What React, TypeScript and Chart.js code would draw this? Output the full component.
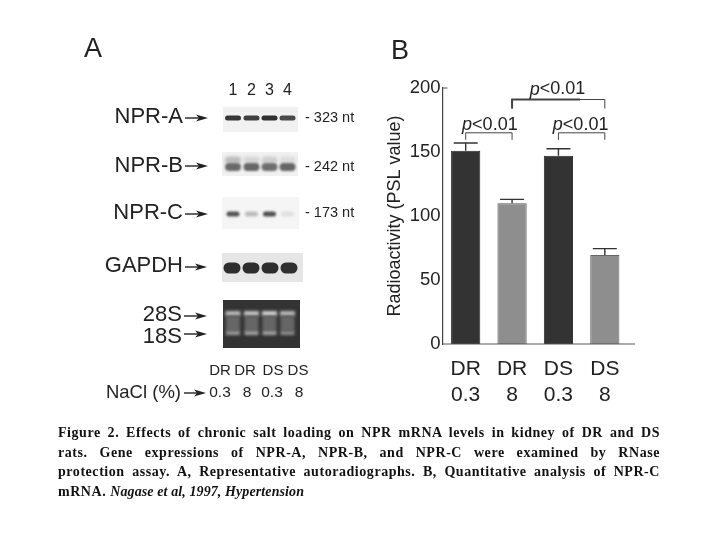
import React, { useEffect, useRef } from 'react';
import { Chart, registerables } from 'chart.js';

Chart.register(...registerables);

// Panel B values
const groups = [['DR', '0.3'], ['DR', '8'], ['DS', '0.3'], ['DS', '8']];
const psl = [151, 110, 147, 69.5];
const errTop = [157, 113, 152.5, 74.5];
const barColors = ['#333333', '#8e8e8e', '#333333', '#8e8e8e'];
const barBorders = ['#2a2a2a', '#555555', '#2a2a2a', '#666666'];
const yTicks = [0, 50, 100, 150, 200];

// significance brackets
const bracketFrom = [0, 2, 1];
const bracketTo = [1, 3, 3];
const bracketLevel = [165, 165, 191];
const bracketText = ['<0.01', '<0.01', '<0.01'];

// Panel A band intensities per lane (0-1)
const npraBands = [0.95, 0.9, 0.98, 0.85];
const nprbBands = [0.68, 0.7, 0.66, 0.7];
const nprbSmear = [0.25, 0.12, 0.15, 0.08];
const nprcBands = [0.8, 0.25, 0.82, 0.06];
const gapdhBands = [1, 1, 1, 0.98];
const bands28s = [0.5, 0.55, 0.6, 0.5];
const bands18s = [0.38, 0.42, 0.42, 0.32];
const laneNumbers = ['1', '2', '3', '4'];
const laneGroups = ['DR', 'DR', 'DS', 'DS'];
const laneNacl = ['0.3', '8', '0.3', '8'];

const captionLines = [
  'Figure 2. Effects of chronic salt loading on NPR mRNA levels in kidney of DR and DS',
  'rats. Gene expressions of NPR-A, NPR-B, and NPR-C were examined by RNase',
  'protection assay. A, Representative autoradiographs. B, Quantitative analysis of NPR-C',
];

const SANS = '"Liberation Sans", Arial, sans-serif';
const INK = '#222222';

function arrow(ctx: CanvasRenderingContext2D, x0: number, x1: number, y: number) {
  ctx.strokeStyle = INK;
  ctx.fillStyle = INK;
  ctx.lineWidth = 1.4;
  ctx.beginPath();
  ctx.moveTo(x0, y);
  ctx.lineTo(x1 - 8, y);
  ctx.stroke();
  ctx.beginPath();
  ctx.moveTo(x1, y);
  ctx.lineTo(x1 - 12, y - 3.5);
  ctx.lineTo(x1 - 9, y);
  ctx.lineTo(x1 - 12, y + 3.5);
  ctx.closePath();
  ctx.fill();
}

function label(ctx: CanvasRenderingContext2D, s: string, x: number, y: number, size: number, align: CanvasTextAlign = 'left') {
  ctx.fillStyle = INK;
  ctx.font = `${size}px ${SANS}`;
  ctx.textAlign = align;
  ctx.textBaseline = 'middle';
  ctx.fillText(s, x, y);
}

function blotRow(
  ctx: CanvasRenderingContext2D,
  levels: number[],
  lanes: number[],
  y: number,
  w: number,
  h: number,
  blur: number,
) {
  ctx.save();
  ctx.filter = `blur(${blur}px)`;
  levels.forEach((v, i) => {
    const g = Math.round(235 - v * 190);
    ctx.fillStyle = `rgb(${g},${g},${g})`;
    ctx.beginPath();
    ctx.roundRect(lanes[i] - w / 2, y - h / 2, w, h, h / 2);
    ctx.fill();
  });
  ctx.restore();
}

// gels on the left, drawn under everything else
const panelA = {
  id: 'panelA',
  beforeDraw(chart: Chart) {
    const ctx = chart.ctx;
    const lanes = [233, 251.5, 269.5, 287.5];
    ctx.save();

    label(ctx, 'A', 93, 50, 27, 'center');
    laneNumbers.forEach((s, i) => label(ctx, s, lanes[i], 91, 16, 'center'));

    ctx.fillStyle = '#f1f1f1';
    ctx.fillRect(223, 107, 75, 25);
    ctx.fillRect(222, 152, 76, 24);
    ctx.fillStyle = '#f5f5f5';
    ctx.fillRect(222, 197, 77, 32);
    ctx.fillStyle = '#e6e6e6';
    ctx.fillRect(222, 253, 81, 29);

    blotRow(ctx, npraBands, lanes, 118, 16, 5, 0.6);
    blotRow(ctx, nprbSmear, lanes, 160, 16, 7, 1.5);
    blotRow(ctx, nprbBands, lanes, 167, 16, 8, 0.9);
    blotRow(ctx, nprcBands, lanes, 214, 13, 5, 0.8);
    blotRow(ctx, gapdhBands, [232, 251, 270, 289], 268, 17, 11, 0.4);

    // rRNA gel is inverted, light bands on dark
    ctx.fillStyle = '#333333';
    ctx.fillRect(223, 300, 77, 48);
    ctx.save();
    ctx.filter = 'blur(1.5px)';
    bands28s.forEach((v, i) => {
      const g = Math.round(70 + v * 230);
      ctx.fillStyle = `rgb(${g},${g},${g})`;
      ctx.fillRect(lanes[i] - 7.5, 311, 15, 5);
      ctx.fillStyle = '#666666';
      ctx.fillRect(lanes[i] - 7, 316, 14, 15);
    });
    bands18s.forEach((v, i) => {
      const g = Math.round(70 + v * 230);
      ctx.fillStyle = `rgb(${g},${g},${g})`;
      ctx.fillRect(lanes[i] - 7, 331, 14, 4);
    });
    ctx.restore();

    label(ctx, 'NPR-A', 183, 117, 22, 'right');
    label(ctx, 'NPR-B', 183, 166, 22, 'right');
    label(ctx, 'NPR-C', 183, 213, 22, 'right');
    label(ctx, 'GAPDH', 183, 266, 22, 'right');
    label(ctx, '28S', 182, 315, 22, 'right');
    label(ctx, '18S', 182, 337, 22, 'right');
    label(ctx, 'NaCl (%)', 181, 393, 18.5, 'right');

    arrow(ctx, 185, 208, 118);
    arrow(ctx, 185, 208, 166);
    arrow(ctx, 185, 208, 214);
    arrow(ctx, 185, 207, 267);
    arrow(ctx, 184, 207, 316);
    arrow(ctx, 184, 207, 334);
    arrow(ctx, 184, 206, 393);

    label(ctx, '- 323 nt', 305, 118, 14.5);
    label(ctx, '- 242 nt', 305, 167, 14.5);
    label(ctx, '- 173 nt', 305, 213, 14.5);

    const groupX = [220, 245, 273, 298];
    const naclX = [220, 247, 272, 299];
    laneGroups.forEach((s, i) => label(ctx, s, groupX[i], 371, 15, 'center'));
    laneNacl.forEach((s, i) => label(ctx, s, naclX[i], 393, 15.5, 'center'));

    label(ctx, 'B', 400, 52, 27, 'center');
    ctx.restore();
  },
};

// error bars, brackets and the axis bits Chart.js has no option for
const panelB = {
  id: 'panelB',
  afterDatasetsDraw(chart: Chart) {
    const ctx = chart.ctx;
    const x = chart.scales.x;
    const y = chart.scales.y;
    ctx.save();
    ctx.strokeStyle = '#333333';
    ctx.lineWidth = 1.4;

    errTop.forEach((top, i) => {
      const cx = x.getPixelForValue(i);
      const py = y.getPixelForValue(top);
      ctx.beginPath();
      ctx.moveTo(cx, y.getPixelForValue(psl[i]));
      ctx.lineTo(cx, py);
      ctx.moveTo(cx - 12, py);
      ctx.lineTo(cx + 12, py);
      ctx.stroke();
    });

    // x axis runs past the last bar, small tick at 200
    ctx.strokeStyle = '#555555';
    ctx.lineWidth = 1;
    ctx.beginPath();
    ctx.moveTo(chart.chartArea.left, y.getPixelForValue(0));
    ctx.lineTo(chart.chartArea.right + 7, y.getPixelForValue(0));
    ctx.moveTo(chart.chartArea.left, y.getPixelForValue(200));
    ctx.lineTo(chart.chartArea.left + 5, y.getPixelForValue(200));
    ctx.stroke();

    bracketLevel.forEach((lvl, i) => {
      const x0 = x.getPixelForValue(bracketFrom[i]);
      const x1 = x.getPixelForValue(bracketTo[i]);
      const py = y.getPixelForValue(lvl);
      const leg = i === 2 ? 9 : 7;
      ctx.strokeStyle = '#444444';
      ctx.lineWidth = 1;
      ctx.beginPath();
      ctx.moveTo(x0, py + leg);
      ctx.lineTo(x0, py);
      ctx.lineTo(x1, py);
      ctx.lineTo(x1, py + leg);
      ctx.stroke();
      if (i === 2) {
        ctx.lineWidth = 2;
        ctx.beginPath();
        ctx.moveTo(x0, py + leg);
        ctx.lineTo(x0, py);
        ctx.lineTo(x0 + 68, py);
        ctx.stroke();
      }

      // p<0.01 above the bracket, p in italics
      const cx = (x0 + x1) / 2 + (i === 2 ? -1 : i === 1 ? -1 : 1);
      const ty = py - (i === 2 ? 10 : 8);
      ctx.textBaseline = 'middle';
      ctx.textAlign = 'left';
      ctx.fillStyle = INK;
      ctx.font = `italic 18px ${SANS}`;
      const pw = ctx.measureText('p').width;
      ctx.font = `18px ${SANS}`;
      const tw = ctx.measureText(bracketText[i]).width;
      const start = cx - (pw + tw) / 2;
      ctx.font = `italic 18px ${SANS}`;
      ctx.fillText('p', start, ty);
      ctx.font = `18px ${SANS}`;
      ctx.fillText(bracketText[i], start + pw, ty);
    });
    ctx.restore();
  },
};

export default function App() {
  const canvasRef = useRef<HTMLCanvasElement | null>(null);

  useEffect(() => {
    if (!canvasRef.current) return;

    const chart = new Chart(canvasRef.current, {
      type: 'bar',
      data: {
        labels: groups,
        datasets: [
          {
            data: psl,
            backgroundColor: barColors,
            borderColor: barBorders,
            borderWidth: 1,
            barPercentage: 0.63,
            categoryPercentage: 1,
          },
        ],
      },
      options: {
        responsive: false,
        animation: false,
        devicePixelRatio: 1,
        layout: { padding: { left: 382.5, right: 92, top: 88, bottom: 118 } },
        plugins: { legend: { display: false }, tooltip: { enabled: false } },
        scales: {
          x: {
            grid: { display: false, drawTicks: false },
            border: { display: false },
            afterFit: (s: any) => { s.height = 78; },
            ticks: {
              color: INK,
              padding: 12,
              maxRotation: 0,
              autoSkip: false,
              font: { family: SANS, size: 21, lineHeight: 1.24 },
            },
          },
          y: {
            min: 0,
            max: 200,
            afterFit: (s: any) => { s.width = 60; },
            afterBuildTicks: (s: any) => { s.ticks = yTicks.map((value) => ({ value })); },
            grid: { display: false, drawTicks: false },
            border: { display: true, color: '#444444', width: 1.2 },
            title: {
              display: true,
              text: 'Radioactivity (PSL value)',
              color: INK,
              padding: { top: 2, bottom: 0 },
              font: { family: SANS, size: 18 },
            },
            ticks: {
              color: INK,
              padding: 2,
              font: { family: SANS, size: 18.5 },
            },
          },
        },
      },
      plugins: [panelA, panelB],
    });

    return () => chart.destroy();
  }, []);

  const lineStyle: React.CSSProperties = { height: 19.7, textAlign: 'justify', textAlignLast: 'justify' };

  return (
    <div style={{ position: 'absolute', left: 0, top: 0, width: 720, height: 540, background: '#fff', overflow: 'hidden' }}>
      <canvas ref={canvasRef} width={720} height={540} style={{ display: 'block', filter: 'blur(0.45px)' }} />
      <div
        style={{
          position: 'absolute',
          left: 58,
          top: 423,
          width: 602,
          fontFamily: '"Liberation Serif", serif',
          fontWeight: 'bold',
          fontSize: 14,
          letterSpacing: 0.55,
          lineHeight: '19.7px',
          color: '#111',
          whiteSpace: 'nowrap',
        }}
      >
        {captionLines.map((line) => (
          <div key={line} style={lineStyle}>{line}</div>
        ))}
        <div style={{ height: 19.7 }}>
          mRNA. <i style={{ letterSpacing: 0.1 }}>Nagase et al, 1997, Hypertension</i>
        </div>
      </div>
    </div>
  );
}
